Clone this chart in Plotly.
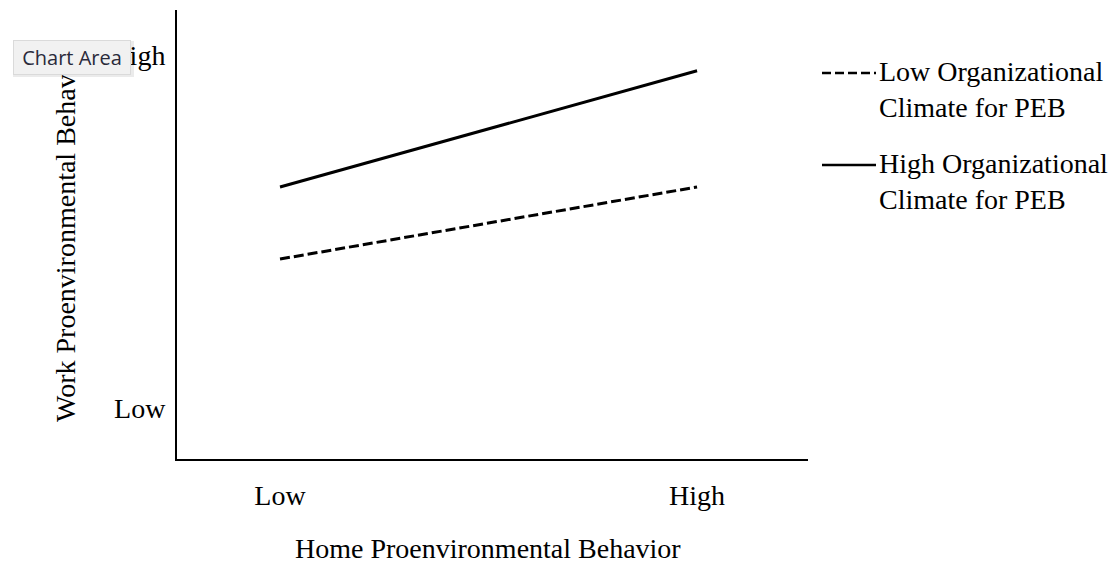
import plotly.graph_objects as go

# ---- data ----
x_levels = [0, 1]
x_tick_labels = ["Low", "High"]
y_tick_vals = [0, 1]
y_tick_labels = ["Low", "High"]
low_climate = [0.422, 0.626]    # Low Organizational Climate for PEB (dashed)
high_climate = [0.626, 0.955]   # High Organizational Climate for PEB (solid)
series_names = ["Low Organizational<br>Climate for PEB", "High Organizational<br>Climate for PEB"]

W, H = 1113, 565
L, R, T, B = 177, 305, 10, 106
PW, PH = W - L - R, H - T - B

def px(x):
    return (x - L) / PW

def py(y):
    return (H - B - y) / PH

FONT = "Liberation Serif, Times New Roman, serif"
FS = 28
DASH = "10px,4px"

fig = go.Figure()
fig.add_trace(go.Scatter(x=x_levels, y=low_climate, mode="lines",
                         line=dict(color="black", width=3, dash=DASH),
                         name=series_names[0], showlegend=False, hoverinfo="skip"))
fig.add_trace(go.Scatter(x=x_levels, y=high_climate, mode="lines",
                         line=dict(color="black", width=3),
                         name=series_names[1], showlegend=False, hoverinfo="skip"))

# manual legend
legend_rows = [(73, "9px,4px", series_names[0]), (165, "solid", series_names[1])]
for yline, dash, txt in legend_rows:
    fig.add_shape(type="line", xref="paper", yref="paper",
                  x0=px(822), x1=px(876), y0=py(yline), y1=py(yline),
                  line=dict(color="black", width=2.5, dash=dash))
    fig.add_annotation(xref="paper", yref="paper", x=px(877), y=py(yline - 19),
                       xanchor="left", yanchor="top", align="left", showarrow=False,
                       text=txt, font=dict(family=FONT, size=FS, color="black"))

# axis titles
fig.add_annotation(xref="paper", yref="paper", x=px(488), y=py(548),
                   xanchor="center", yanchor="middle", showarrow=False,
                   text="Home Proenvironmental Behavior",
                   font=dict(family=FONT, size=FS, color="black"))
fig.add_annotation(xref="paper", yref="paper", x=px(66), y=py(233),
                   xanchor="center", yanchor="middle", showarrow=False, textangle=-90,
                   text="Work Proenvironmental Behavior",
                   font=dict(family=FONT, size=FS, color="black"))

# "Chart Area" tooltip overlay (soft shadow + box)
fig.add_shape(type="rect", xref="paper", yref="paper",
              x0=px(13), x1=px(134), y0=py(77), y1=py(41),
              fillcolor="rgba(0,0,0,0.08)", line=dict(width=0))
fig.add_annotation(xref="paper", yref="paper", x=px(72), y=py(57.5),
                   xanchor="center", yanchor="middle", showarrow=False,
                   text="&nbsp;Chart Area&nbsp;", bgcolor="#f1f1f1", bordercolor="#dadada",
                   borderwidth=1, borderpad=3,
                   font=dict(family="Open Sans, Arial, sans-serif", size=20, color="#2a2a3a"))

fig.update_xaxes(range=[-0.247, 1.266], tickvals=x_levels, ticktext=x_tick_labels,
                 showgrid=False, zeroline=False, showline=True, linecolor="black",
                 linewidth=2, ticks="", ticklabelstandoff=10,
                 tickfont=dict(family=FONT, size=FS, color="black"))
fig.update_yaxes(range=[-0.144, 1.127], tickvals=y_tick_vals, ticktext=y_tick_labels,
                 showgrid=False, zeroline=False, showline=True, linecolor="black",
                 linewidth=2, ticks="", ticklabelstandoff=4,
                 tickfont=dict(family=FONT, size=FS, color="black"))

fig.update_layout(width=W, height=H, margin=dict(l=L, r=R, t=T, b=B),
                  plot_bgcolor="white", paper_bgcolor="white", showlegend=False,
                  hovermode=False)

fig.write_html("out.html", config={"displayModeBar": False},
               post_script="document.body.style.margin='0';")
